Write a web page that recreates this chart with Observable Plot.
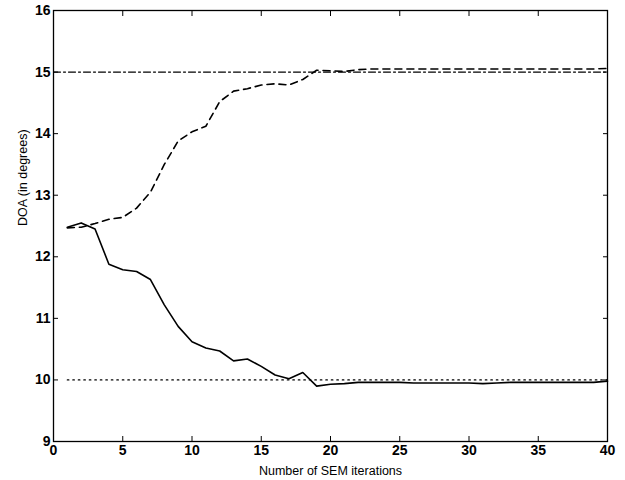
<!DOCTYPE html>
<html>
<head>
<meta charset="utf-8">
<script src="https://cdn.jsdelivr.net/npm/d3@7"></script>
<script src="https://cdn.jsdelivr.net/npm/@observablehq/plot@0.6"></script>
<style>
  html, body { margin: 0; padding: 0; background: #fff; }
</style>
</head>
<body>
<div id="chart"></div>
<script>
const iterations = Array.from({length: 40}, (_, i) => i + 1);
const solidValues = [12.48, 12.55, 12.45, 11.88, 11.79, 11.76, 11.63, 11.22, 10.87, 10.62,
  10.52, 10.47, 10.31, 10.34, 10.22, 10.08, 10.02, 10.12, 9.90, 9.93,
  9.94, 9.96, 9.96, 9.96, 9.96, 9.95, 9.95, 9.95, 9.95, 9.95,
  9.94, 9.95, 9.96, 9.96, 9.96, 9.96, 9.96, 9.96, 9.96, 9.98];
const dashedValues = [12.47, 12.48, 12.54, 12.61, 12.64, 12.79, 13.05, 13.5, 13.88, 14.03,
  14.12, 14.52, 14.69, 14.73, 14.79, 14.81, 14.79, 14.88, 15.03, 15.02,
  15.01, 15.04, 15.05, 15.05, 15.05, 15.05, 15.05, 15.05, 15.05, 15.05,
  15.05, 15.05, 15.05, 15.05, 15.05, 15.05, 15.05, 15.05, 15.05, 15.06];
const trueHigh = {x: [0, 40], y: [15, 15]};
const trueLow = {x: [1, 40], y: [10, 10]};
const xTicks = [0, 5, 10, 15, 20, 25, 30, 35, 40];
const yTicks = [9, 10, 11, 12, 13, 14, 15, 16];

const solid = iterations.map((x, i) => ({x, y: solidValues[i]}));
const dashed = iterations.map((x, i) => ({x, y: dashedValues[i]}));
const high = trueHigh.x.map((x, i) => ({x, y: trueHigh.y[i]}));
const low = trueLow.x.map((x, i) => ({x, y: trueLow.y[i]}));

const font = "'Liberation Sans', Arial, sans-serif";

const chart = Plot.plot({
  width: 625,
  height: 480,
  marginLeft: 53,
  marginRight: 18,
  marginTop: 10,
  marginBottom: 39,
  style: {fontFamily: font, fontSize: "13px", color: "#000", background: "#fff"},
  x: {domain: [0, 40], label: null},
  y: {domain: [9, 16], label: null},
  marks: [
    Plot.frame({stroke: "#000", strokeWidth: 1.3}),
    Plot.axisX({anchor: "bottom", ticks: xTicks, tickFormat: "d", tickSize: -5, tickPadding: 9, fontSize: 14, fontWeight: "bold", label: null}),
    Plot.axisX({anchor: "top", ticks: xTicks, tickSize: -5, tickFormat: () => "", label: null}),
    Plot.axisY({anchor: "left", ticks: yTicks, tickFormat: "d", tickSize: -5, tickPadding: 8, fontSize: 14, fontWeight: "bold", label: null}),
    Plot.axisY({anchor: "right", ticks: yTicks, tickSize: -5, tickFormat: () => "", label: null}),
    Plot.line(high, {x: "x", y: "y", stroke: "#000", strokeWidth: 1.3, strokeDasharray: "7,3,2,3"}),
    Plot.line(low, {x: "x", y: "y", stroke: "#000", strokeWidth: 1.3, strokeDasharray: "1.5,4"}),
    Plot.line(dashed, {x: "x", y: "y", stroke: "#000", strokeWidth: 1.6, strokeDasharray: "7,5", curve: "linear"}),
    Plot.line(solid, {x: "x", y: "y", stroke: "#000", strokeWidth: 1.6, curve: "linear"}),
    Plot.text(["Number of SEM iterations"], {frameAnchor: "bottom", dy: 33, fontSize: 12.5, fill: "#000"}),
    Plot.text(["DOA (in degrees)"], {frameAnchor: "left", dx: -31, rotate: -90, fontSize: 12.5, fill: "#000"})
  ]
});
document.getElementById("chart").appendChild(chart);
</script>
</body>
</html>
